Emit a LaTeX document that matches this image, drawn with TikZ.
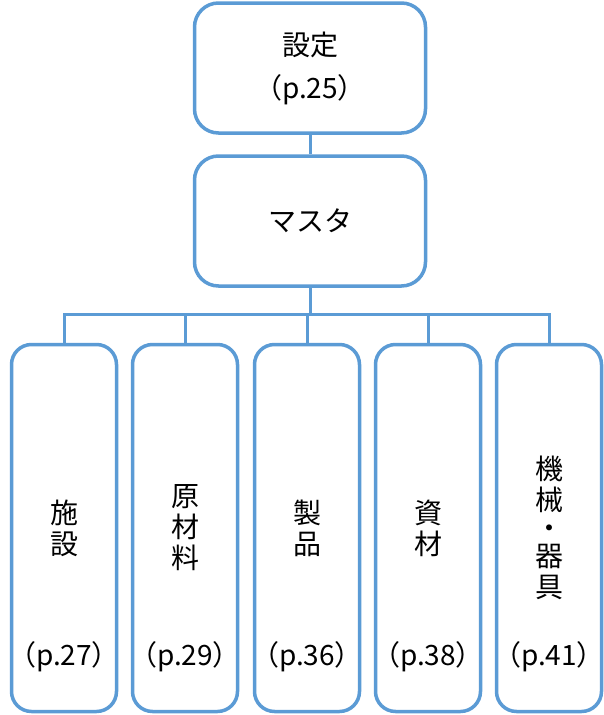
\documentclass[tikz,border=0pt]{standalone}
\usepackage{fontspec}
\setmainfont{Noto Sans CJK JP}
\usetikzlibrary{positioning}
\definecolor{boxblue}{RGB}{91,155,213}
\begin{document}
\begin{tikzpicture}[x=1pt, y=-1pt,
        every node/.style={font=\fontsize{28}{31}\selectfont, align=center},
        topbox/.style={draw=boxblue, line width=3.5pt, rounded corners=24pt, fill=white, minimum width=231pt, minimum height=130pt, inner sep=0pt},
        leafbox/.style={draw=boxblue, line width=3.5pt, rounded corners=20pt, fill=white, minimum width=105pt, minimum height=367pt, inner sep=0pt},
        link/.style={draw=boxblue, line width=3pt}]
        \useasboundingbox (0,0) rectangle (604,715);
        \node[topbox, font=\fontsize{28}{43}\selectfont] (setting) at (310,68) {設定\\（p.25）};
        \node[topbox] (master) at (310,221) {マスタ};
        \draw[link] (setting) -- (master);
        \foreach \i/\x/\name/\page in {1/64/{施\\設}/27, 2/185/{原\\材\\料}/29, 3/307/{製\\品}/36, 4/428/{資\\材}/38, 5/549/{機\\械\\[-3pt]・\\[-3pt]器\\具}/41} {
            \node[leafbox] (b\i) at (\x,528) {\name};
            \node (p\i) at (\x,657) {（p.\page）};
            \draw[link] (master.south) -- ++(0,27) -| (b\i.north);
        }
\end{tikzpicture}
\end{document}
